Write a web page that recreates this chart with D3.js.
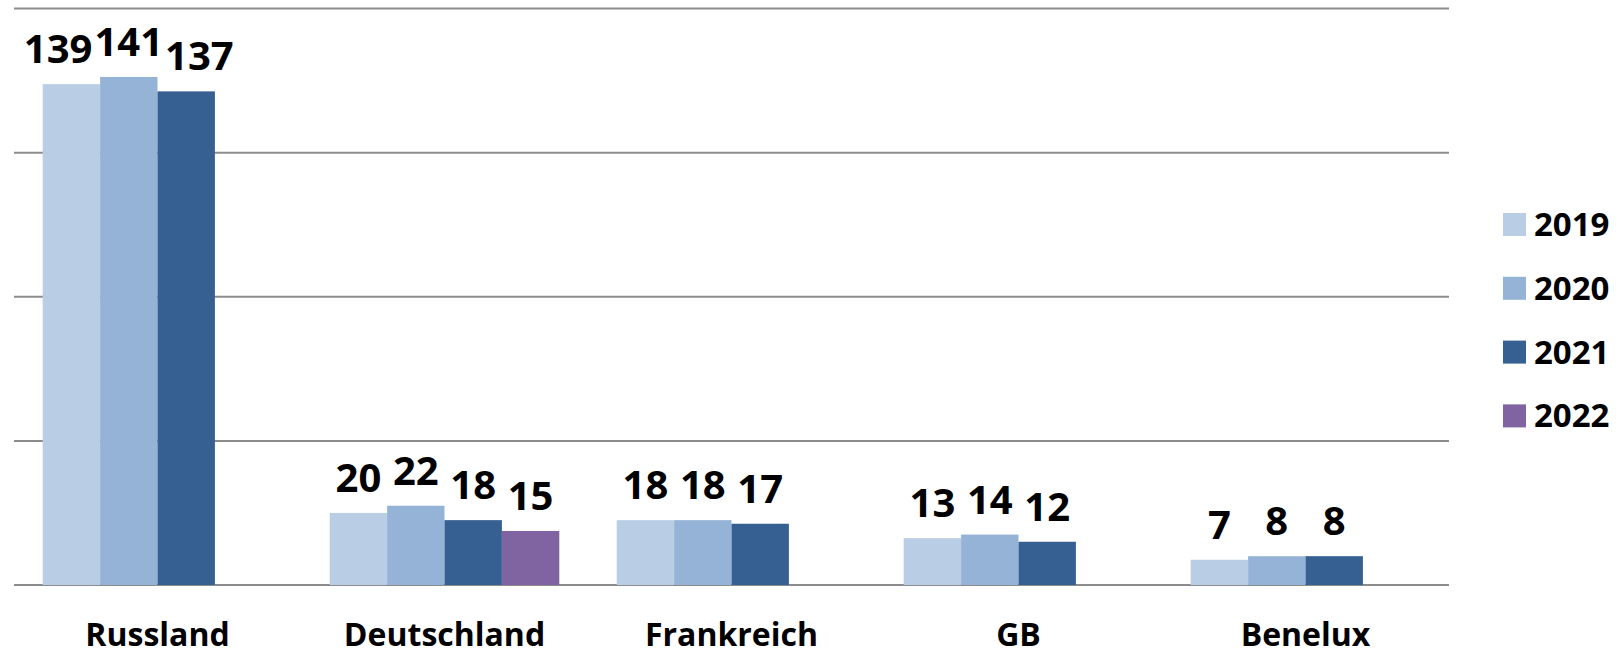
<!DOCTYPE html>
<html>
<head>
<meta charset="utf-8">
<title>Chart</title>
<script src="https://d3js.org/d3.v7.min.js"></script>
<style>
  body { margin: 0; background: #fff; }
  text { font-family: "Open Sans", "Noto Sans", sans-serif; font-weight: 700; fill: #000; }
</style>
</head>
<body>
<script>

var categories = ["Russland", "Deutschland", "Frankreich", "GB", "Benelux"];
var years = ["2019", "2020", "2021", "2022"];
var colors = ["#b9cde5", "#95b3d7", "#376092", "#8064a2"];

// values per year, null = no bar
var v2019 = [139, 20, 18, 13, 7];
var v2020 = [141, 22, 18, 14, 8];
var v2021 = [137, 18, 17, 12, 8];
var v2022 = [null, 15, null, null, null];
var series = [v2019, v2020, v2021, v2022];

var yTicks = [0, 40, 80, 120, 160];

var width = 1623, height = 651;
var plotLeft = 14, plotRight = 1449, plotTop = 8.5, plotBottom = 585;

var svg = d3.select("body").append("svg")
	.attr("width", width)
	.attr("height", height);

var x = d3.scaleBand()
	.domain(categories)
	.range([plotLeft, plotRight])
	.padding(0);

var xs = d3.scaleBand()
	.domain(years)
	.range([0, x.bandwidth()])
	.paddingInner(0)
	.paddingOuter(0.5);

var y = d3.scaleLinear()
	.domain([0, 160])
	.range([plotBottom, plotTop]);

// grid lines
svg.append("g").selectAll("line")
	.data(yTicks).enter().append("line")
	.attr("x1", plotLeft)
	.attr("x2", plotRight)
	.attr("y1", function(d){ return y(d); })
	.attr("y2", function(d){ return y(d); })
	.attr("stroke", "#8c8c8c")
	.attr("stroke-width", 2);

var rows = [];
categories.forEach(function(c, ci){
	years.forEach(function(yr, yi){
		var val = series[yi][ci];
		if (val != null) rows.push({cat: c, year: yr, yi: yi, value: val});
	});
});

svg.append("g").selectAll("rect")
	.data(rows).enter().append("rect")
	.attr("x", function(d){ return x(d.cat) + xs(d.year); })
	.attr("y", function(d){ return y(d.value); })
	.attr("width", xs.bandwidth())
	.attr("height", function(d){ return y(0) - y(d.value); })
	.attr("fill", function(d){ return colors[d.yi]; });

// value labels
var labels = svg.append("g").selectAll("text")
	.data(rows).enter().append("text")
	.attr("text-anchor", "middle")
	.attr("font-size", 40)
	.attr("x", function(d){ return x(d.cat) + xs(d.year) + xs.bandwidth() / 2; })
	.attr("y", function(d){ return y(d.value) - 21; })
	.text(function(d){ return d.value; });

// push overlapping labels apart, keeping the tallest in place
categories.forEach(function(c){
	var grp = labels.filter(function(d){ return d.cat === c; }).nodes();
	var info = grp.map(function(n){
		return {node: n, cx: +n.getAttribute("x"), w: n.getComputedTextLength(), v: n.__data__.value};
	});
	var mi = d3.maxIndex(info, function(d){ return d.v; });
	for (var i = mi + 1; i < info.length; i++) {
		var minX = info[i-1].cx + info[i-1].w / 2 + info[i].w / 2 + 2;
		if (info[i].cx < minX) info[i].cx = minX;
	}
	for (var j = mi - 1; j >= 0; j--) {
		var maxX = info[j+1].cx - info[j+1].w / 2 - info[j].w / 2 - 2;
		if (info[j].cx > maxX) info[j].cx = maxX;
	}
	info.forEach(function(d){ d.node.setAttribute("x", d.cx); });
});

// category labels
svg.append("g").selectAll("text")
	.data(categories).enter().append("text")
	.attr("text-anchor", "middle")
	.attr("font-size", 32)
	.attr("x", function(d){ return x(d) + x.bandwidth() / 2; })
	.attr("y", 646)
	.text(function(d){ return d; });

// legend
var legend = svg.append("g").selectAll("g")
	.data(years).enter().append("g")
	.attr("transform", function(d, i){ return "translate(1503," + (213 + i * 63.8) + ")"; });

legend.append("rect")
	.attr("width", 23)
	.attr("height", 23)
	.attr("fill", function(d, i){ return colors[i]; });

legend.append("text")
	.attr("x", 31)
	.attr("y", 23)
	.attr("font-size", 33)
	.text(function(d){ return d; });

</script>
</body>
</html>
